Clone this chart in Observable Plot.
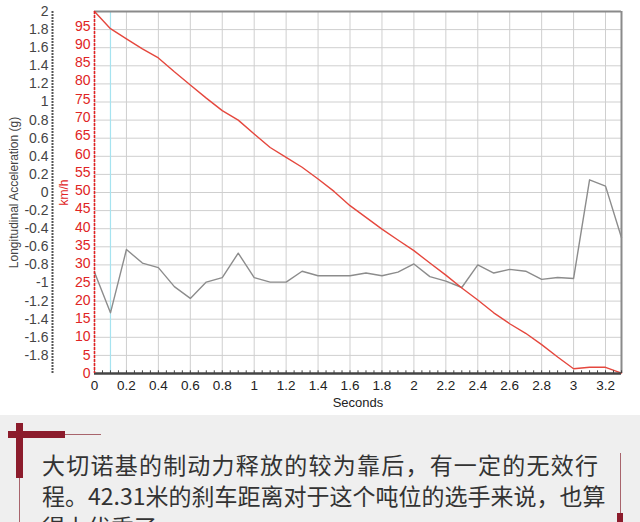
<!DOCTYPE html>
<html><head><meta charset="utf-8">
<script src="https://cdn.jsdelivr.net/npm/d3@7"></script>
<script src="https://cdn.jsdelivr.net/npm/@observablehq/plot@0.6"></script>
<style>
html,body{margin:0;padding:0;background:#fff;}
body{width:640px;height:522px;overflow:hidden;font-family:"Liberation Sans",Arial,sans-serif;}
#chart{height:415px;background:#fff;}
#note{position:relative;height:107px;background:#efefef;overflow:hidden;}
.bar{position:absolute;background:#8c1c2c;}
.thin{position:absolute;background:#a8646c;}
#txt{position:absolute;left:42px;top:34px;width:556px;font-family:"Noto Sans CJK SC",sans-serif;font-size:23px;line-height:31px;color:#333;}
#txt div{text-align:justify;text-align-last:justify;white-space:nowrap;}
#txt div.last{text-align-last:left;}
</style></head>
<body>
<div id="chart"></div>
<div id="note">
  <div class="bar" style="left:16px;top:8px;width:7px;height:55px"></div>
  <div class="bar" style="left:8px;top:16px;width:57px;height:7px"></div>
  <div class="thin" style="left:65px;top:19px;width:36px;height:1px"></div>
  <div class="thin" style="left:19px;top:63px;width:1px;height:60px"></div>
  <div class="thin" style="left:620px;top:38px;width:1px;height:80px"></div>
  <div class="bar" style="left:617px;top:98px;width:6px;height:20px"></div>
  <div id="txt"></div>
</div>
<script>
// ---- data ----
const seconds = [0,0.1,0.2,0.3,0.4,0.5,0.6,0.7,0.8,0.9,1.0,1.1,1.2,1.3,1.4,1.5,1.6,1.7,1.8,1.9,2.0,2.1,2.2,2.3,2.4,2.5,2.6,2.7,2.8,2.9,3.0,3.1,3.2,3.3];
const speedKmh = [99,94.3,91.5,88.8,86.3,82.5,78.9,75.3,71.9,69.3,65.5,61.8,59.1,56.4,53.2,49.8,45.9,42.7,39.5,36.5,33.6,30.2,26.9,23.4,20.1,16.6,13.6,11.0,7.9,4.5,1.3,1.7,1.7,0.1];
const accelG = [-0.88,-1.33,-0.63,-0.78,-0.83,-1.04,-1.17,-0.99,-0.94,-0.67,-0.94,-0.99,-0.99,-0.87,-0.92,-0.92,-0.92,-0.89,-0.92,-0.88,-0.79,-0.93,-0.98,-1.05,-0.80,-0.89,-0.85,-0.87,-0.96,-0.94,-0.95,0.14,0.07,-0.50];
const xTicks = [0,0.2,0.4,0.6,0.8,1,1.2,1.4,1.6,1.8,2,2.2,2.4,2.6,2.8,3,3.2];
const gTicks = [-1.8,-1.6,-1.4,-1.2,-1,-0.8,-0.6,-0.4,-0.2,0,0.2,0.4,0.6,0.8,1,1.2,1.4,1.6,1.8,2];
const speedTicks = [0,5,10,15,20,25,30,35,40,45,50,55,60,65,70,75,80,85,90,95];
const markerSecond = [0.1];
const noteLines = ["大切诺基的制动力释放的较为靠后，有一定的无效行","程。42.31米的刹车距离对于这个吨位的选手来说，也算","得上优秀了。"];

// ---- scales config ----
const gDomain = [-2, 2];
const speedMax = 99;
const toY = s => s / speedMax * (gDomain[1] - gDomain[0]) + gDomain[0];
const fromY = y => Math.round((y - gDomain[0]) / (gDomain[1] - gDomain[0]) * speedMax);
const rows = seconds.map((t, i) => ({t, g: accelG[i], v: speedKmh[i]}));
const minorX = d3.range(0, 3.3001, 0.05);

const plot = Plot.plot({
  width: 640, height: 412,
  marginTop: 11, marginRight: 19, marginBottom: 39, marginLeft: 94,
  style: {fontFamily: "Liberation Sans, Arial, sans-serif", fontSize: "14px", background: "transparent", color: "#333", overflow: "visible"},
  x: {domain: [0, 3.3]},
  y: {domain: gDomain},
  marks: [
    Plot.gridX(xTicks, {stroke: "#cfcfcf", strokeOpacity: 1}),
    Plot.gridY(gTicks, {stroke: "#cfcfcf", strokeOpacity: 1}),
    Plot.ruleX(markerSecond, {stroke: "#a6e3f0", strokeWidth: 1.2}),
    Plot.ruleY([gDomain[1]], {stroke: "#8a8a8a", strokeWidth: 2}),
    Plot.ruleX([3.3], {stroke: "#8a8a8a", strokeWidth: 2}),
    Plot.line(rows, {x: "t", y: "g", stroke: "#8c8c8c", strokeWidth: 1.4}),
    Plot.line(rows, {x: "t", y: d => toY(d.v), stroke: "#e5473d", strokeWidth: 1.4}),
    Plot.ruleY([gDomain[0]], {stroke: "#444", strokeWidth: 2.5}),
    Plot.ruleX(minorX, {y1: gDomain[0], y2: gDomain[0] + 0.03, stroke: "#444", strokeWidth: 1}),
    Plot.axisX(xTicks, {anchor: "bottom", tickSize: 0, tickPadding: 7, tickFormat: d => String(d), fill: "#222", fontSize: 13.5, label: null}),
    Plot.axisY(gTicks, {anchor: "left", dx: -42, tickSize: 0, tickPadding: 4, tickFormat: d => String(+d.toFixed(1)), fill: "#444", fontSize: 14, label: null}),
    Plot.ruleX([0], {dx: -42, stroke: "#555", strokeWidth: 2, strokeDasharray: "2,1"}),
    Plot.axisY(speedTicks.map(toY), {anchor: "left", tickSize: 0, tickPadding: 4, tickFormat: fromY, fill: "#e02424", fontSize: 14, label: null}),
    Plot.ruleX([0], {stroke: "#e02424", strokeWidth: 1.6, strokeDasharray: "3,1"}),
    Plot.text(["Longitudinal Acceleration (g)"], {text: d => d, frameAnchor: "left", textAnchor: "middle", dx: -80, rotate: -90, fontSize: 12, fill: "#444"}),
    Plot.text(["km/h"], {text: d => d, frameAnchor: "left", textAnchor: "middle", dx: -30, rotate: -90, fontSize: 12, fill: "#e02424"}),
    Plot.text(["Seconds"], {text: d => d, frameAnchor: "bottom", dy: 33, fontSize: 13, fill: "#222"})
  ]
});
document.getElementById("chart").appendChild(plot);

const txt = document.getElementById("txt");
noteLines.forEach((s, i) => {
  const div = document.createElement("div");
  div.textContent = s;
  if (i === noteLines.length - 1) div.className = "last";
  txt.appendChild(div);
});
</script>
</body></html>
